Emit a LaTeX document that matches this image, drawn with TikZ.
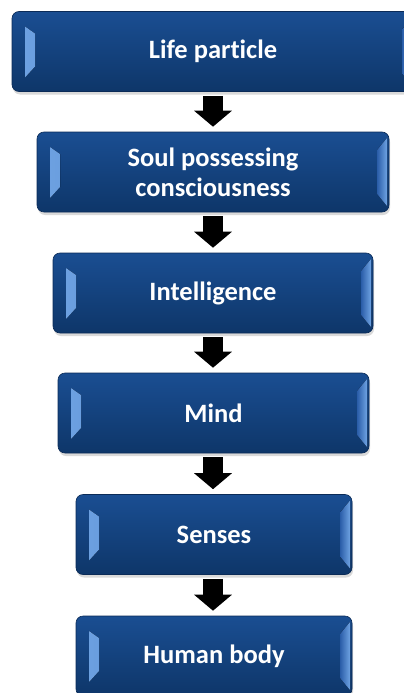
\documentclass[tikz,border=0pt]{standalone}
\usepackage{fontspec}
\setmainfont{Carlito}[Ligatures=NoCommon]
\usetikzlibrary{arrows.meta,shadows}

\definecolor{boxtop}{HTML}{1A4E92}
\definecolor{boxbot}{HTML}{0E3669}
\definecolor{boxedge}{HTML}{0B2B57}
\definecolor{bevlight}{HTML}{6FA3E3}
\definecolor{bevdark}{HTML}{2A5DA8}

\tikzset{
  stage/.style={draw=boxedge, line width=0.6pt, rounded corners=7pt,
    top color=boxtop, bottom color=boxbot, text=white,
    font=\bfseries\fontsize{26.5}{30}\selectfont, align=center,
    minimum height=80pt, inner sep=0pt,
    drop shadow={shadow xshift=1pt, shadow yshift=-3pt, opacity=0.3},
    path picture={
      % left bevel
      \fill[sharp corners, left color=bevlight, right color=bevdark]
        ([xshift=13pt,yshift=-15pt]path picture bounding box.north west) --
        ([xshift=23pt,yshift=-22pt]path picture bounding box.north west) --
        ([xshift=23pt,yshift=25pt]path picture bounding box.south west) --
        ([xshift=13pt,yshift=14pt]path picture bounding box.south west) -- cycle;
      % right bevel
      \fill[sharp corners, left color=bevdark, right color=bevlight]
        ([xshift=-12pt,yshift=-18pt]path picture bounding box.north east) --
        ([xshift=-2pt,yshift=-6pt]path picture bounding box.north east) --
        ([xshift=-2pt,yshift=6pt]path picture bounding box.south east) --
        ([xshift=-12pt,yshift=18pt]path picture bounding box.south east) -- cycle;
    }},
  flow/.style={line width=20pt, -{Triangle[width=37pt,length=16pt]},
    shorten <=4pt, shorten >=5pt}
}

\begin{document}
\begin{tikzpicture}[x=1pt, y=-1pt]
  \useasboundingbox (0,0) rectangle (404,693);

  \node[stage, minimum width=402pt] (life)   at (213,51.5) {Life particle};
  \node[stage, minimum width=352pt] (soul)   at (213,172)  {Soul possessing\\consciousness};
  \node[stage, minimum width=320pt] (intel)  at (213,293)  {Intelligence};
  \node[stage, minimum width=311pt] (mind)   at (213.5,413) {Mind};
  \node[stage, minimum width=276pt] (senses) at (214,534.5) {Senses};
  \node[stage, minimum width=276pt] (body)   at (214,656)  {Human body};

  \draw[flow] (life.south)   -- (soul.north);
  \draw[flow] (soul.south)   -- (intel.north);
  \draw[flow] (intel.south)  -- (intel.south |- mind.north);
  \draw[flow] (mind.south -| intel.south) -- (intel.south |- senses.north);
  \draw[flow] (senses.south -| intel.south) -- (intel.south |- body.north);

\end{tikzpicture}
\end{document}
